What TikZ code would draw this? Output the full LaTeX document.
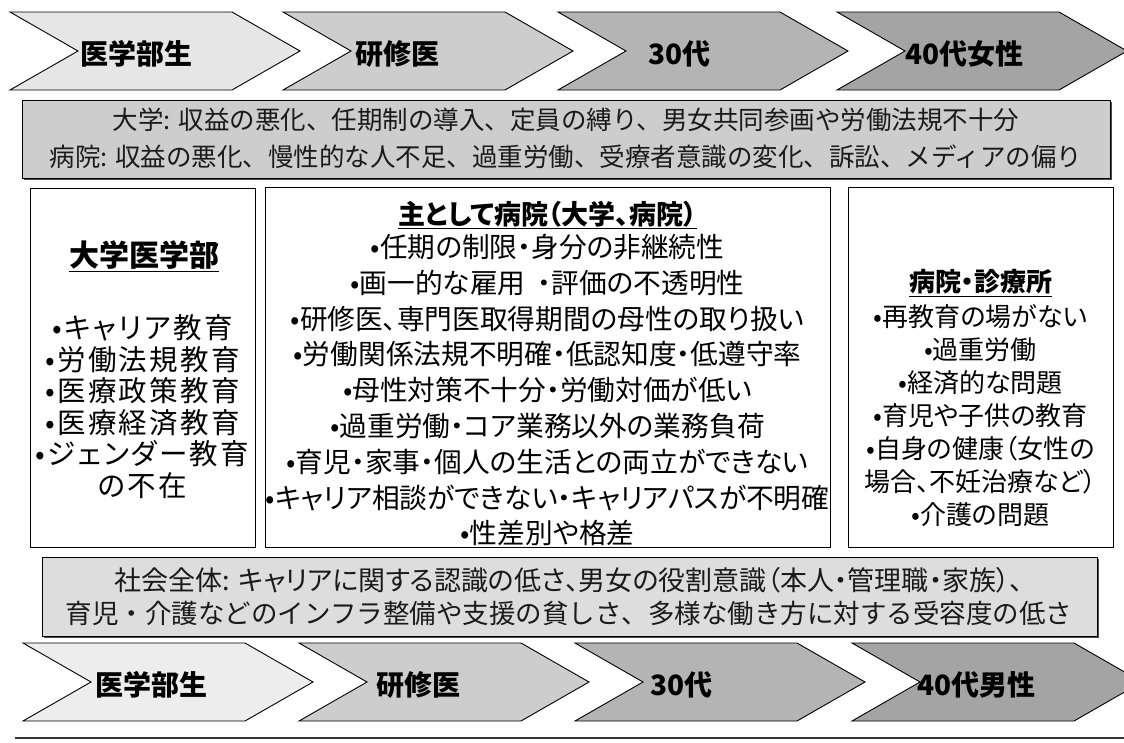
\documentclass[tikz,border=0pt]{standalone}
\usepackage{fontspec}
\setmainfont{Noto Sans CJK JP}
\newfontfamily\pfont{Noto Sans CJK JP}[RawFeature={+palt}]
\newfontfamily\wfont{Noto Sans CJK JP}[RawFeature={+palt},LetterSpace=8]
\definecolor{cA}{HTML}{E6E6E6}
\definecolor{cB}{HTML}{CDCDCD}
\definecolor{cC}{HTML}{B4B4B4}
\definecolor{cD}{HTML}{A4A4A4}
\definecolor{banA}{HTML}{CDCDCD}
\definecolor{banB}{HTML}{DDDDDD}
\definecolor{ink}{HTML}{1A1A1A}
\newcommand{\mychev}[3]{%
  \draw[chev, fill=#3] (#1,#2) -- ++(222,0) -- ++(68,39) -- ++(-68,39) -- ++(-222,0) -- ++(68,-39) -- cycle;}
\begin{document}
\begin{tikzpicture}[x=1pt,y=-1pt,
  chev/.style={draw=black, line width=0.9pt, line join=miter},
  chevtxt/.style={anchor=west, inner sep=0pt, text=black, font=\fontsize{28}{30}\selectfont\bfseries},
  banner/.style={draw=black, line width=0.9pt},
  shadowbox/.style={fill=black!70, draw=none},
  panel/.style={draw=black, line width=0.9pt, fill=white},
  bantxt/.style={align=center, inner sep=0pt, text=ink},
  item/.style={inner sep=0pt, text=black},
]
\useasboundingbox (0,0) rectangle (1124,742);
\fill[white] (0,0) rectangle (1124,742);

% top chevrons
\mychev{10}{12}{cA}
\mychev{283}{12}{cB}
\mychev{558}{12}{cC}
\mychev{837}{12}{cD}
\node[chevtxt] (t1) at (80,54) {医学部生};
\node[chevtxt] (t2) at (355,54) {研修医};
\node[chevtxt] (t3) at (648,54) {30代};
\node[chevtxt] (t4) at (905,54) {40代女性};

% top banner
\fill[shadowbox] (24,102) rectangle (1112,180);
\draw[banner, fill=banA] (22,100) rectangle (1110,178);
\node[bantxt, font=\fontsize{25.5}{37}\selectfont] (ban1) at (566,138)
  {大学: 収益の悪化、任期制の導入、定員の縛り、男女共同参画や労働法規不十分\\
   病院: 収益の悪化、慢性的な人不足、過重労働、受療者意識の変化、訴訟、メディアの偏り};

% panels
\draw[panel] (30,188) rectangle (255,547);
\draw[panel] (265,187) rectangle (830,547);
\draw[panel] (848,187) rectangle (1113,547);

% left panel
\node[item, font=\fontsize{30}{32}\selectfont\bfseries] (Lt) at (144,256) {\underline{大学医学部}};
\foreach \t [count=\i from 0] in {{•キャリア教育},{•労働法規教育},{•医療政策教育},{•医療経済教育},{•ジェンダー教育},{の不在}}{
  \node[item, font=\wfont\fontsize{28.5}{30}\selectfont] (L\i) at (142.5,{328+31.5*\i}) {\t};
}

% middle panel
\node[item, font=\pfont\fontsize{27}{28}\selectfont\bfseries] (Mt) at (547.5,215) {\underline{主として病院（大学、病院）}};
\foreach \t [count=\i from 0] in {{•任期の制限・身分の非継続性},{•画一的な雇用\ \ ・評価の不透明性},{•研修医、専門医取得期間の母性の取り扱い},{•労働関係法規不明確・低認知度・低遵守率},{•母性対策不十分・労働対価が低い},{•過重労働・コア業務以外の業務負荷},{•育児・家事・個人の生活との両立ができない},{•キャリア相談ができない・キャリアパスが不明確},{•性差別や格差}}{
  \node[item, font=\pfont\fontsize{27.7}{30}\selectfont] (M\i) at (547.5,{247+35.8*\i}) {\t};
}

% right panel
\node[item, font=\pfont\fontsize{26}{28}\selectfont\bfseries] (Rt) at (980.5,283) {\underline{病院・診療所}};
\foreach \t [count=\i from 0] in {{•再教育の場がない},{•過重労働},{•経済的な問題},{•育児や子供の教育},{•自身の健康（女性の},{場合、不妊治療など）},{•介護の問題}}{
  \node[item, font=\pfont\fontsize{26}{28}\selectfont] (R\i) at (980.5,{317+33*\i}) {\t};
}

% bottom banner
\fill[shadowbox] (44,559) rectangle (1099,638);
\draw[banner, fill=banB] (42,557) rectangle (1097,636);
\node[bantxt, font=\fontsize{26.5}{33}\selectfont] (ban2) at (569,597)
  {{\pfont\fontsize{27}{33}\selectfont 社会全体: キャリアに関する認識の低さ、男女の役割意識（本人・管理職・家族）、}\\
   育児・介護などのインフラ整備や支援の貧しさ、多様な働き方に対する受容度の低さ};

% bottom chevrons
\mychev{23}{643}{cA!70!white}
\mychev{299}{643}{cB}
\mychev{575}{643}{cC}
\mychev{852}{643}{cD}
\node[chevtxt] (b1) at (95,685) {医学部生};
\node[chevtxt] (b2) at (376,685) {研修医};
\node[chevtxt] (b3) at (650,685) {30代};
\node[chevtxt] (b4) at (917,685) {40代男性};

% bottom rule
\draw[line width=2.5pt, black!80] (15,738) -- (1124,738);
\end{tikzpicture}
\end{document}
